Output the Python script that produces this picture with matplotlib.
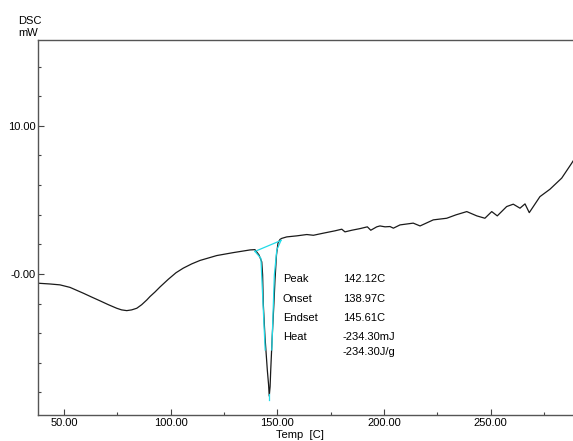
import matplotlib
matplotlib.use("Agg")
from matplotlib import pyplot as plt
from matplotlib.ticker import MultipleLocator, FuncFormatter

plt.rcParams['font.family'] = ['Liberation Sans', 'DejaVu Sans']

# DSC trace, temperature [C] vs heat flow [mW]
temp = [38.0, 43.4, 48.1, 52.8, 59.0, 62.9, 66.9, 70.8, 74.7, 77.0, 79.4, 81.7,
        84.1, 86.4, 88.8, 90.3, 92.65, 95.0, 98.9, 102.5, 105.9, 109.9, 113.75,
        121.6, 129.4, 137.2, 139.5, 141.4, 142.7, 143.1,
        143.4, 144.2, 145.3, 145.9, 146.2, 146.6, 146.9, 147.6, 148.4, 148.9,
        149.6, 150.3, 151.25, 152.05, 154.4, 159.1, 163.8, 166.9, 171.5, 177.0,
        180.2, 181.7, 184.9, 188.75, 192.2, 193.8, 196.6, 198.1, 200.5, 202.8,
        204.4, 207.5, 213.7, 216.9, 223.1, 229.4, 233.75, 238.8, 243.5, 247.3,
        250.5, 253.1, 257.5, 260.6, 263.75, 266.1, 268.1, 273.1, 277.8, 283.3,
        288.0, 288.6]
dsc = [-0.63, -0.68, -0.74, -0.91, -1.30, -1.56, -1.82, -2.08, -2.32, -2.43, -2.48, -2.43,
       -2.32, -2.08, -1.76, -1.53, -1.22, -0.88, -0.36, 0.08, 0.39, 0.68, 0.91,
       1.24, 1.44, 1.62, 1.64, 1.28, 0.81, -0.07,
       -1.98, -4.24, -6.49, -7.50, -8.25, -7.61, -6.49, -4.24, -1.98, -0.41,
       1.28, 2.09, 2.33, 2.40, 2.50, 2.57, 2.66, 2.61, 2.75, 2.91,
       3.02, 2.84, 2.95, 3.06, 3.18, 2.95, 3.18, 3.24, 3.18, 3.20,
       3.09, 3.31, 3.43, 3.24, 3.65, 3.76, 3.99, 4.21, 3.92, 3.76,
       4.21, 3.92, 4.55, 4.71, 4.44, 4.73, 4.14, 5.22, 5.72, 6.47,
       7.48, 7.62]

# peak analysis overlay
base_t = [139.5, 151.7]
base_v = [1.52, 2.26]
left_t = [139.5, 142.3, 144.3]
left_v = [1.52, 1.05, -5.14]
right_t = [151.7, 149.75, 148.6, 147.4]
right_v = [2.26, 1.62, -0.07, -5.14]
peak_t = [146.2, 146.2]
peak_v = [-8.1, -8.55]

info_names = ['Peak', 'Onset', 'Endset', 'Heat', '']
info_values = ['142.12C', '138.97C', '145.61C', '-234.30mJ', '-234.30J/g']
info_y = [-0.34, -1.69, -2.95, -4.24, -5.29]

fig = plt.figure(figsize=(5.73, 4.41), dpi=100)
ax = fig.add_axes([38/573, 1-415/441, 535/573, 375/441])

ax.plot(temp, dsc, color='#1a1a1a', lw=0.9, solid_joinstyle='round')
cyan = '#22dbe8'
ax.plot(base_t, base_v, color=cyan, lw=0.9)
ax.plot(left_t, left_v, color=cyan, lw=0.9)
ax.plot(right_t, right_v, color=cyan, lw=0.9)
ax.plot(peak_t, peak_v, color=cyan, lw=0.9)

for name, val, y in zip(info_names, info_values, info_y):
    ax.text(152.5, y, name, fontsize=8, va='center', ha='left')
    ax.text(180.6, y, val, fontsize=8, va='center', ha='left')

ax.set_xlim(37.8, 288.6)
ax.set_ylim(-9.53, 15.8)
ax.xaxis.set_major_locator(MultipleLocator(50))
ax.xaxis.set_minor_locator(MultipleLocator(25))
ax.yaxis.set_major_locator(MultipleLocator(10))
ax.yaxis.set_minor_locator(MultipleLocator(2))
ax.xaxis.set_major_formatter(FuncFormatter(lambda v, p: f'{v:.2f}'))
ax.yaxis.set_major_formatter(FuncFormatter(lambda v, p: '-0.00' if v == 0 else f'{v:.2f}'))

ax.tick_params(which='both', direction='in', colors='#444444', labelcolor='black',
               labelsize=8, width=0.8)
ax.tick_params(which='major', length=4.5, pad=2)
ax.tick_params(which='minor', length=2.5)
ax.tick_params(axis='y', which='major', pad=1.5)

for side in ['left', 'bottom', 'top']:
    ax.spines[side].set_color('#555555')
    ax.spines[side].set_linewidth(1.0)
ax.spines['right'].set_visible(False)

fig.text(300/573, 1-435/441, 'Temp  [C]', fontsize=8, ha='center', va='center')
fig.text(18/573, 1-20.7/441, 'DSC', fontsize=8, ha='left', va='center')
fig.text(18/573, 1-33/441, 'mW', fontsize=8, ha='left', va='center')

fig.savefig('out.png', dpi=100)
